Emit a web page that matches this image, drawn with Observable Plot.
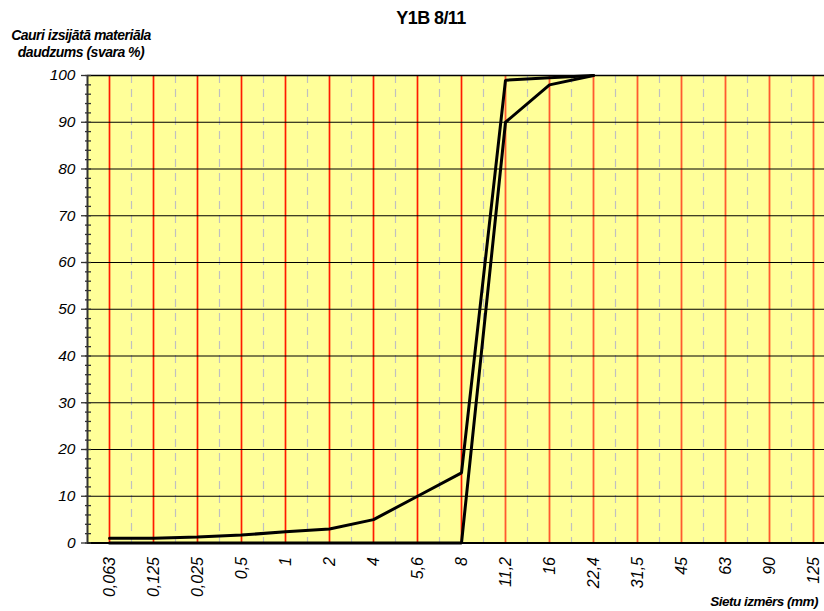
<!DOCTYPE html>
<html>
<head>
<meta charset="utf-8">
<script src="https://cdn.jsdelivr.net/npm/d3@7"></script>
<script src="https://cdn.jsdelivr.net/npm/@observablehq/plot@0.6"></script>
<style>
  html, body { margin: 0; padding: 0; background: #fff; overflow: hidden; }
  #wrap { position: relative; width: 824px; height: 611px; font-family: "Liberation Sans", Arial, sans-serif; }
  .lbl { position: absolute; font-weight: bold; white-space: nowrap; color: #000; }
  #wrap svg text { font-style: italic; }
</style>
</head>
<body>
<div id="wrap">
  <div class="lbl" id="title" style="left:0; width:862px; top:8px; text-align:center; font-size:18px; letter-spacing:-0.6px;">Y1B 8/11</div>
  <div class="lbl" style="left:0; width:162px; top:27px; text-align:center; font-size:14px; font-style:italic; letter-spacing:-0.5px; line-height:17px;">Cauri izsijātā materiāla<br>daudzums (svara %)</div>
  <div class="lbl" style="right:6px; top:594px; font-size:13.5px; font-style:italic; letter-spacing:-0.5px;">Sietu izmērs (mm)</div>
</div>
<script>
// Sieve sizes (x categories, equally spaced)
const sieves = ["0,063","0,125","0,025","0,5","1","2","4","5,6","8","11,2","16","22,4","31,5","45","63","90","125"];
// Upper grading curve (% passing)
const passingUpper = [1, 1, 1.3, 1.7, 2.4, 3, 5, 10, 15, 99, 99.5, 100];
// Lower grading curve (% passing)
const passingLower = [0, 0, 0, 0, 0, 0, 0, 0, 0, 90, 98, 100];
// Y ticks
const yMajor = [0, 10, 20, 30, 40, 50, 60, 70, 80, 90, 100];
const yMinor = d3.range(0, 101, 2);

const upper = passingUpper.map((v, i) => ({i, v}));
const lower = passingLower.map((v, i) => ({i, v}));
const sieveIdx = sieves.map((s, i) => i);
const midIdx = sieves.map((s, i) => i + 0.5);
const gridY = yMajor.filter(v => v > 0 && v < 100);

const chart = Plot.plot({
  width: 824,
  height: 611,
  marginTop: 75,
  marginBottom: 68.5,
  marginLeft: 87,
  marginRight: 0,
  style: {fontFamily: "Liberation Sans, Arial, sans-serif", fontSize: "15px", background: "transparent", overflow: "hidden"},
  x: {type: "linear", domain: [-0.5, 16.25], axis: null},
  y: {domain: [0, 100], axis: null},
  marks: [
    Plot.frame({fill: "#ffff99", stroke: null}),
    Plot.ruleX(midIdx, {stroke: "#c0c0c0", strokeWidth: 1.2, strokeDasharray: "8,6"}),
    Plot.ruleX(sieveIdx.filter(i => i < 9), {stroke: "#ff1a00", strokeWidth: 1.7}),
    Plot.ruleX(sieveIdx.filter(i => i >= 9), {stroke: "#ff5a30", strokeWidth: 1.8}),
    Plot.ruleY(gridY, {stroke: "#000", strokeWidth: 1.1}),
    Plot.ruleY([100], {stroke: "#000", strokeWidth: 1.5}),
    Plot.ruleX([-0.5], {stroke: "#333", strokeWidth: 2}),
    Plot.ruleY([0], {stroke: "#000", strokeWidth: 2}),
    Plot.axisY({ticks: yMinor, tickSize: 6, dx: 4, text: null, label: null, stroke: "#333", strokeWidth: 1.3}),
    Plot.axisY({ticks: yMajor, tickSize: 6, tickPadding: 6, stroke: "#333", strokeWidth: 1.3, fontSize: 15.5, label: null}),
    Plot.axisX({ticks: sieveIdx, tickFormat: i => sieves[i], tickSize: 0, tickPadding: 14, tickRotate: -90, fontSize: 16, label: null}),
    Plot.line(upper, {x: "i", y: "v", stroke: "#000", strokeWidth: 3, strokeLinejoin: "miter"}),
    Plot.line(lower, {x: "i", y: "v", stroke: "#000", strokeWidth: 3, strokeLinejoin: "miter"})
  ]
});
chart.style.position = "absolute";
chart.style.left = "0";
chart.style.top = "0";
document.getElementById("wrap").prepend(chart);
</script>
</body>
</html>
